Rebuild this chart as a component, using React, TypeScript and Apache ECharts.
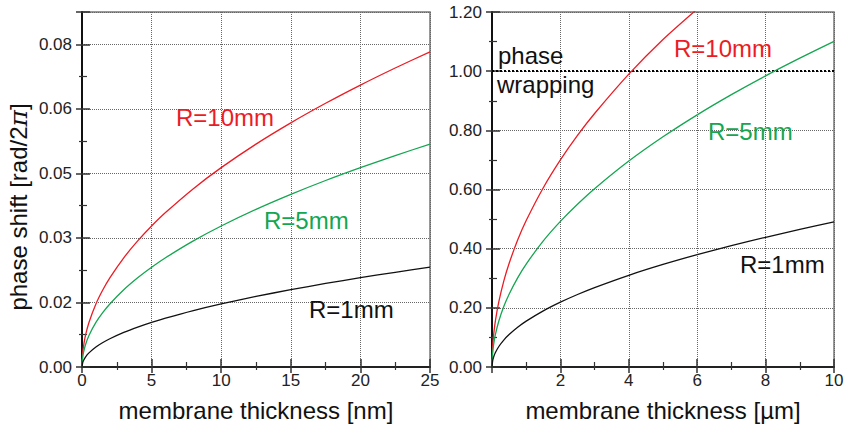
import React, { useEffect, useRef } from "react";
import * as echarts from "echarts";

// ---- Left panel: membrane thickness [nm] vs phase shift [rad/2π]
const LEFT_X = [0, 0.05, 0.1, 0.25, 0.5, 1, 1.5, 2, 3, 4, 5, 6, 8, 10, 12.5, 15, 17.5, 20, 22.5, 25];
const LEFT_R10 = [0, 0.00328, 0.00463, 0.00733, 0.01036, 0.01465, 0.01794, 0.02072, 0.02537, 0.0293, 0.03276, 0.03588, 0.04144, 0.04633, 0.0518, 0.05674, 0.06129, 0.06552, 0.06949, 0.07325];
const LEFT_R5 = [0, 0.00232, 0.00328, 0.00518, 0.00733, 0.01036, 0.01269, 0.01465, 0.01794, 0.02072, 0.02317, 0.02538, 0.0293, 0.03276, 0.03663, 0.04012, 0.04334, 0.04633, 0.04914, 0.0518];
const LEFT_R1 = [0, 0.00104, 0.00147, 0.00232, 0.00328, 0.00464, 0.00568, 0.00656, 0.00804, 0.00928, 0.01038, 0.01137, 0.01312, 0.01467, 0.0164, 0.01797, 0.01941, 0.02075, 0.02201, 0.0232];
const LEFT_Y_TICK_LABELS = ["0.00", "0.02", "0.03", "0.05", "0.06", "0.08"];

// ---- Right panel: membrane thickness [µm]
const RIGHT_X = [0, 0.02, 0.05, 0.1, 0.2, 0.35, 0.5, 0.75, 1, 1.5, 2, 2.5, 3, 4, 5, 6, 7, 8, 9, 10];
const RIGHT_R10 = [0, 0.07, 0.111, 0.157, 0.221, 0.293, 0.35, 0.429, 0.495, 0.606, 0.7, 0.783, 0.857, 0.99, 1.107, 1.21];
const RIGHT_R5 = [0, 0.0492, 0.0778, 0.11, 0.1556, 0.2059, 0.2461, 0.3014, 0.348, 0.4262, 0.4921, 0.5502, 0.6027, 0.696, 0.7781, 0.8524, 0.9207, 0.9843, 1.044, 1.1005];
const RIGHT_R1 = [0, 0.0219, 0.0347, 0.049, 0.0693, 0.0917, 0.1096, 0.1342, 0.155, 0.1898, 0.2192, 0.2451, 0.2685, 0.31, 0.3466, 0.3797, 0.4101, 0.4384, 0.465, 0.4902];
const PHASE_WRAP_LEVEL = 1.0;

const SERIES_NAMES = ["R=10mm", "R=5mm", "R=1mm"];
const RED = "#ec1c24";
const GREEN = "#14a650";
const BLACK = "#111111";
const FONT = "'Liberation Sans', Arial, Helvetica, sans-serif";

const pairs = (xs: number[], ys: number[]) => ys.map((y, i) => [xs[i], y]);

export default function App() {
  const ref = useRef<HTMLDivElement>(null);
  useEffect(() => {
    if (!ref.current) return;
    const chart = echarts.init(ref.current, undefined, { renderer: "svg" });

    const gridLine = { show: true, lineStyle: { color: "#666", width: 1, type: [1, 1] as any } };
    const axisLabelStyle = { color: "#222", fontSize: 17, fontFamily: FONT };

    const mainX = (gridIndex: number, max: number, interval: number, showMin: boolean) => ({
      type: "value",
      gridIndex,
      position: "bottom",
      min: 0,
      max,
      interval,
      axisLine: { show: true, lineStyle: { color: "#222", width: 2 } },
      axisTick: { show: true, inside: false, length: 6, lineStyle: { color: "#333", width: 1.5 } },
      minorTick: { show: true, splitNumber: 2, length: 3, lineStyle: { color: "#333", width: 1.2 } },
      axisLabel: { ...axisLabelStyle, margin: 5, showMinLabel: showMin, formatter: (v: number) => (showMin || v !== 0 ? String(v) : "") },
      splitLine: gridLine,
      minorSplitLine: { show: false },
    });
    const innerX = (gridIndex: number, max: number, interval: number) => ({
      type: "value",
      gridIndex,
      position: "bottom",
      min: 0,
      max,
      interval,
      axisLine: { show: false },
      axisTick: { show: true, inside: true, length: 8, lineStyle: { color: "#333", width: 1.5 } },
      minorTick: { show: true, splitNumber: 2, length: 5, lineStyle: { color: "#333", width: 1.2 } },
      axisLabel: { show: false },
      splitLine: { show: false },
    });
    const mainY = (gridIndex: number, max: number, interval: number, fmt: (v: number) => string, showMax: boolean) => ({
      type: "value",
      gridIndex,
      position: "left",
      min: 0,
      max,
      interval,
      axisLine: { show: true, lineStyle: { color: "#111", width: 2 } },
      axisTick: { show: true, inside: false, length: 6, lineStyle: { color: "#333", width: 1.5 } },
      minorTick: { show: true, splitNumber: 2, length: 3, lineStyle: { color: "#333", width: 1.2 } },
      axisLabel: { ...axisLabelStyle, margin: 10, showMaxLabel: showMax, formatter: fmt },
      splitLine: gridLine,
    });
    const innerY = (gridIndex: number, max: number, interval: number) => ({
      type: "value",
      gridIndex,
      position: "left",
      min: 0,
      max,
      interval,
      axisLine: { show: false },
      axisTick: { show: true, inside: true, length: 8, lineStyle: { color: "#333", width: 1.5 } },
      minorTick: { show: true, splitNumber: 2, length: 5, lineStyle: { color: "#333", width: 1.2 } },
      axisLabel: { show: false },
      splitLine: { show: false },
    });

    const leftFmt = (v: number) => {
      const i = Math.round(v / 0.015);
      if (Math.abs(v - i * 0.015) > 1e-9) return "";
      return LEFT_Y_TICK_LABELS[i] ?? "";
    };
    const rightFmt = (v: number) => v.toFixed(2);

    const line = (name: string, color: string, data: number[][], xi: number, yi: number, extra: any = {}) => ({
      type: "line",
      name,
      xAxisIndex: xi,
      yAxisIndex: yi,
      data,
      showSymbol: false,
      symbol: "none",
      smooth: 0.25,
      clip: true,
      lineStyle: { color, width: 1.3 },
      itemStyle: { color },
      z: 5,
      ...extra,
    });

    const text = (t: string, x: number, y: number, color: string) => ({
      type: "text",
      x,
      y,
      z: 100,
      style: { text: t, fill: color, fontSize: 24, fontFamily: FONT, align: "left", verticalAlign: "middle" },
    });

    const option: any = {
      animation: false,
      backgroundColor: "#ffffff",
      grid: [
        { left: 82, right: 414, top: 12, bottom: 59, show: true, borderColor: "#777", borderWidth: 1.5, backgroundColor: "transparent", outerBoundsMode: "none" },
        { left: 492, right: 10, top: 12, bottom: 59, show: true, borderColor: "#777", borderWidth: 1.5, backgroundColor: "transparent", outerBoundsMode: "none" },
      ],
      xAxis: [
        {
          ...mainX(0, 25, 5, true),
          name: "membrane thickness [nm]",
          nameLocation: "middle",
          nameGap: 31,
          nameTextStyle: { color: "#111", fontSize: 24, fontFamily: FONT },
        },
        {
          ...mainX(1, 10, 2, false),
          name: "membrane thickness [µm]",
          nameLocation: "middle",
          nameGap: 31,
          nameTextStyle: { color: "#111", fontSize: 24, fontFamily: FONT },
        },
        innerX(0, 25, 5),
        innerX(1, 10, 2),
      ],
      yAxis: [
        mainY(0, 0.0825, 0.015, leftFmt, false),
        mainY(1, 1.2, 0.2, rightFmt, true),
        innerY(0, 0.0825, 0.015),
        innerY(1, 1.2, 0.2),
      ],
      series: [
        line(SERIES_NAMES[0], RED, pairs(LEFT_X, LEFT_R10), 0, 0),
        line(SERIES_NAMES[1], GREEN, pairs(LEFT_X, LEFT_R5), 0, 0),
        line(SERIES_NAMES[2], BLACK, pairs(LEFT_X, LEFT_R1), 0, 0),
        line(SERIES_NAMES[0], RED, pairs(RIGHT_X, RIGHT_R10), 1, 1),
        line(SERIES_NAMES[1], GREEN, pairs(RIGHT_X, RIGHT_R5), 1, 1),
        line(SERIES_NAMES[2], BLACK, pairs(RIGHT_X, RIGHT_R1), 1, 1, {
          markLine: {
            silent: true,
            symbol: "none",
            label: { show: false },
            lineStyle: { color: "#000", width: 2, type: [2, 2] },
            data: [{ yAxis: PHASE_WRAP_LEVEL }],
            z: 4,
          },
        }),
      ],
      graphic: [
        {
          type: "text",
          x: 18,
          y: 207,
          rotation: Math.PI / 2,
          z: 100,
          style: {
            text: "phase shift [rad/2{pi|π}]",
            fill: "#111",
            fontSize: 24,
            fontFamily: FONT,
            align: "center",
            verticalAlign: "middle",
            rich: { pi: { fontSize: 25, fontStyle: "italic", fontFamily: "'DejaVu Serif', serif", fill: "#111" } },
          },
        },
        text("R=10mm", 176, 117.5, RED),
        text("R=5mm", 264, 220.5, GREEN),
        text("R=1mm", 309, 309.5, BLACK),
        text("R=10mm", 674, 48.5, RED),
        text("R=5mm", 708, 131.5, GREEN),
        text("R=1mm", 740, 264.5, BLACK),
        text("phase", 498, 55, "#111"),
        text("wrapping", 497, 84, "#111"),
      ],
    };

    chart.setOption(option);
    return () => chart.dispose();
  }, []);

  return <div ref={ref} style={{ position: "fixed", left: 0, top: 0, width: 844, height: 426, background: "#fff" }} />;
}
